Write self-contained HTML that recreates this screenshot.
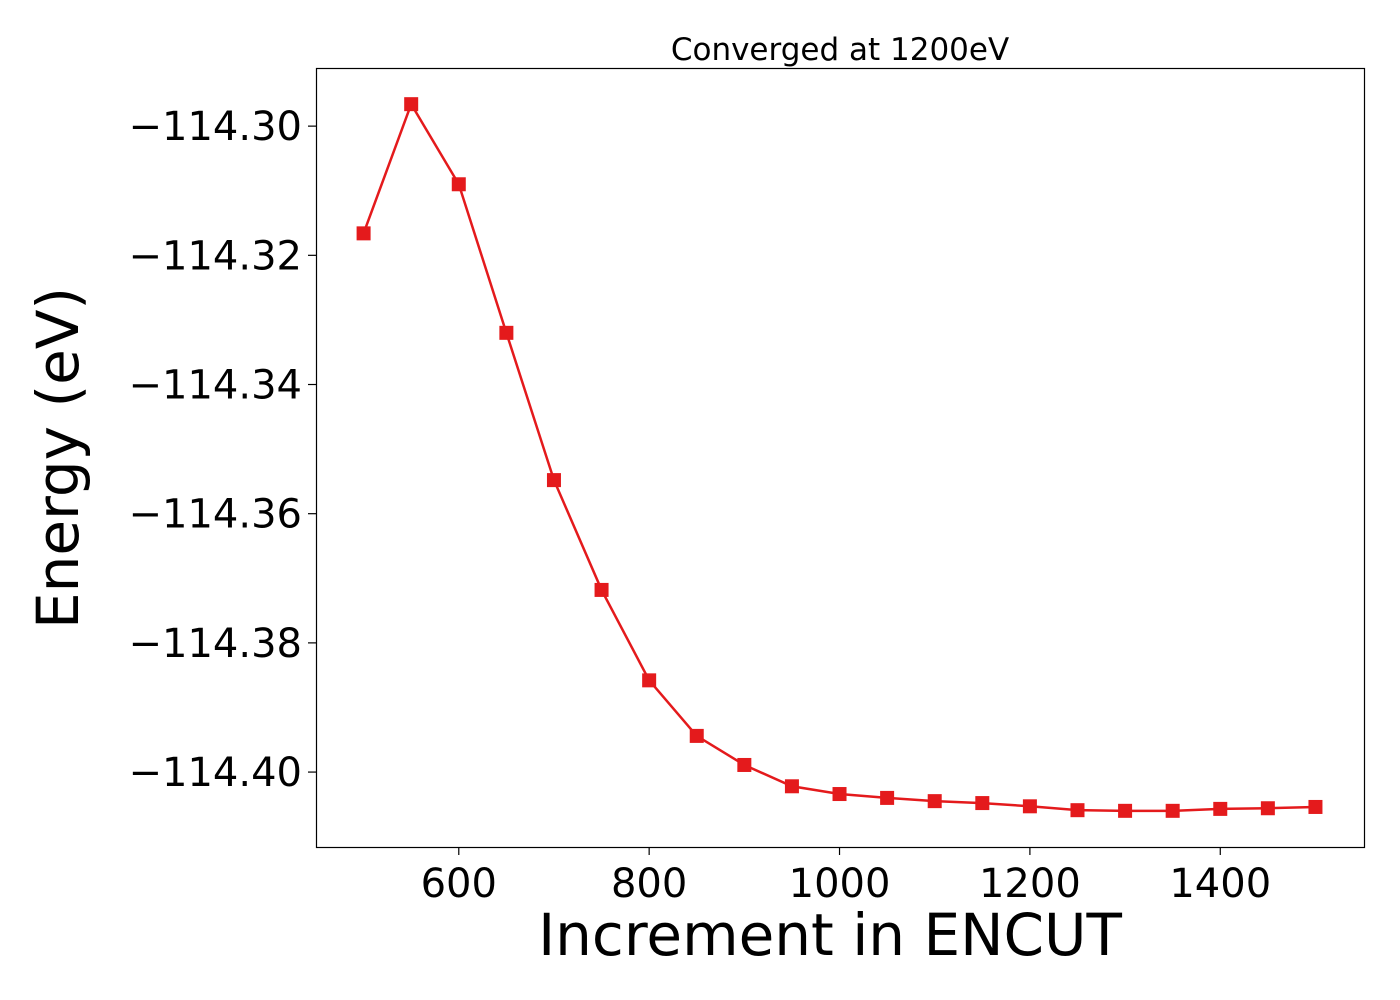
<!DOCTYPE html>
<html><head><meta charset="utf-8"><style>
html,body{margin:0;padding:0;background:#fff;}
svg{display:block;font-family:"DejaVu Sans","Liberation Sans",sans-serif;}
</style></head><body>
<svg id="chart" width="1400" height="1000">
<rect width="1400" height="1000" fill="#fff"/>
<text x="840" y="60" font-size="31" text-anchor="middle">Converged at 1200eV</text>
<text x="830" y="955" font-size="58" text-anchor="middle">Increment in ENCUT</text>
<text transform="translate(78,458) rotate(-90)" font-size="58" text-anchor="middle">Energy (eV)</text>
<g id="xticks"></g>
<g id="yticks"></g>
<g id="series"></g>
<rect x="316.5" y="68.5" width="1048" height="779" fill="none" stroke="#000" stroke-width="1.2"/>
</svg>
<script>
const encut = [500,550,600,650,700,750,800,850,900,950,1000,1050,1100,1150,1200,1250,1300,1350,1400,1450,1500];
const energy = [-114.3166,-114.2966,-114.3090,-114.3320,-114.3548,-114.3718,-114.3858,-114.3944,-114.3989,-114.4022,-114.4034,-114.4040,-114.4045,-114.4048,-114.4053,-114.4059,-114.4060,-114.4060,-114.4057,-114.4056,-114.4054];
const xTickValues = [600,800,1000,1200,1400];
const yTickValues = [-114.30,-114.32,-114.34,-114.36,-114.38,-114.40];
const yTickLabels = ["\u2212114.30","\u2212114.32","\u2212114.34","\u2212114.36","\u2212114.38","\u2212114.40"];

const L=316,R=1364,T=68,B=847;
const xMin=450,xMax=1551;
const yMax=-114.2910,yMin=-114.4116;
const xs=v=>L+(v-xMin)/(xMax-xMin)*(R-L);
const ys=v=>T+(yMax-v)/(yMax-yMin)*(B-T);
const NS="http://www.w3.org/2000/svg";
function mk(tag,attrs,parent){const e=document.createElementNS(NS,tag);for(const k in attrs)e.setAttribute(k,attrs[k]);parent.appendChild(e);return e;}

const gx=document.getElementById('xticks');
xTickValues.forEach(v=>{
  const x=xs(v);
  const t=mk('line',{x1:x,x2:x,y1:B,y2:B+8,stroke:'#000','stroke-width':1.2},gx);
  
  
  const l=mk('text',{x:x,y:B+50,'font-size':40,'text-anchor':'middle'},gx);
  l.textContent=v;
  
  
});
const gy=document.getElementById('yticks');
yTickValues.forEach((v,i)=>{
  const y=ys(v);
  const t=mk('line',{x1:L-8,x2:L,y1:y,y2:y,stroke:'#000','stroke-width':1.2},gy);
  
  
  const l=mk('text',{x:L-14,y:y+14,'font-size':40,'text-anchor':'end'},gy);
  l.textContent=yTickLabels[i];
  
  
});
const gs=document.getElementById('series');
const pts=encut.map((v,i)=>xs(v)+','+ys(energy[i])).join(' ');
const line=mk('polyline',{points:pts,fill:'none',stroke:'#e41a1c','stroke-width':2.5},gs);


encut.forEach((v,i)=>{
  const m=mk('rect',{x:xs(v)-7,y:ys(energy[i])-7,width:14,height:14,fill:'#e41a1c'},gs);
  
  
});
</script>
</body></html>
